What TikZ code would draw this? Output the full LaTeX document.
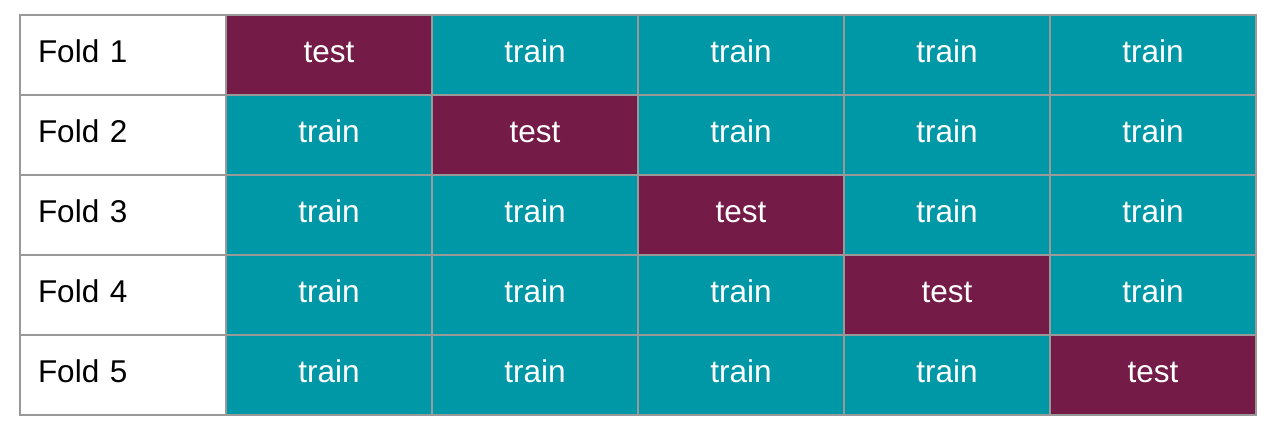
\documentclass[tikz,border=0pt]{standalone}
\usepackage{fontspec}
\setmainfont{Liberation Sans}
\usetikzlibrary{positioning}
\definecolor{traincol}{RGB}{0,151,167}
\definecolor{testcol}{RGB}{116,27,71}
\definecolor{gridcol}{RGB}{153,153,153}
\tikzset{
    cellbox/.style={draw=gridcol, line width=1.5pt, minimum width=206pt, minimum height=80pt,
        inner sep=0pt, outer sep=0pt, font=\fontsize{31.5}{38}\selectfont,
        text height=22.7pt, text depth=7pt},
    foldbox/.style={cellbox, fill=white, text=black, text width=170pt, inner xsep=18pt, align=left},
    trainbox/.style={cellbox, fill=traincol, text=white},
    testbox/.style={cellbox, fill=testcol, text=white},
}

\begin{document}
\begin{tikzpicture}[x=1pt,y=-1pt]
\useasboundingbox (0,0) rectangle (1274,433);

%Rows: fold label, then five cells
\node[foldbox] (fold1) at (123,55) {Fold 1};
\foreach \r [count=\p from 1] in {2,...,5}{
    \node[foldbox, below=0pt of fold\p] (fold\r) {Fold \r};
}
\foreach \r in {1,...,5}{
    \foreach \c [count=\p from 0] in {1,...,5}{
        \ifnum\c=\r \def\kind{testbox}\def\word{test}\else \def\kind{trainbox}\def\word{train}\fi
        \ifnum\c=1
            \node[\kind, right=0pt of fold\r] (cell-\r-\c) {\word};
        \else
            \node[\kind, right=0pt of cell-\r-\p] (cell-\r-\c) {\word};
        \fi
    }
}

\end{tikzpicture}
\end{document}
